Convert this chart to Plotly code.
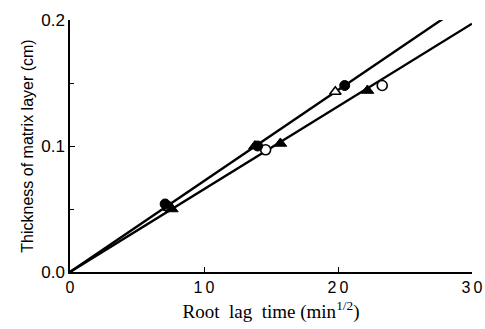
import plotly.graph_objects as go

# Data
line_x = [0, 30]
upper_line_y = [0, 0.2166]
lower_line_y = [0, 0.1971]

filled_circle_x = [7.1, 14.0, 20.5]
filled_circle_y = [0.054, 0.100, 0.148]
open_circle_x = [7.3, 14.6, 23.3]
open_circle_y = [0.052, 0.097, 0.148]
filled_tri_x = [7.6, 13.8, 15.7, 22.2]
filled_tri_y = [0.050, 0.100, 0.102, 0.144]
open_tri_x = [7.4, 19.8]
open_tri_y = [0.051, 0.143]

x_ticks = [0, 10, 20, 30]
x_tick_labels = ["0", "1\u20090", "2\u20090", "3\u20090"]
y_ticks = [0.0, 0.1, 0.2]
y_tick_labels = ["0.0", "0.1", "0.2"]

fig = go.Figure()
fig.add_trace(go.Scatter(x=line_x, y=upper_line_y, mode="lines",
                         line=dict(color="black", width=2.4), cliponaxis=True))
fig.add_trace(go.Scatter(x=line_x, y=lower_line_y, mode="lines",
                         line=dict(color="black", width=2.4), cliponaxis=True))
fig.add_trace(go.Scatter(x=open_circle_x, y=open_circle_y, mode="markers",
                         marker=dict(symbol="circle", size=10, color="white",
                                     line=dict(color="black", width=1.6))))
fig.add_trace(go.Scatter(x=open_tri_x, y=open_tri_y, mode="markers",
                         marker=dict(symbol="triangle-up", size=10, color="white",
                                     line=dict(color="black", width=1.6))))
fig.add_trace(go.Scatter(x=filled_tri_x, y=filled_tri_y, mode="markers",
                         marker=dict(symbol="triangle-up", size=11, color="black",
                                     line=dict(color="black", width=1))))
fig.add_trace(go.Scatter(x=filled_circle_x, y=filled_circle_y, mode="markers",
                         marker=dict(symbol="circle", size=10, color="black",
                                     line=dict(color="black", width=1))))

fig.update_layout(
    width=485, height=329,
    margin=dict(l=70, r=13, t=20, b=57),
    paper_bgcolor="white", plot_bgcolor="white",
    showlegend=False,
    xaxis=dict(
        range=[0, 30], tickvals=x_ticks, ticktext=x_tick_labels,
        automargin=False,
        ticks="inside", ticklen=5, tickwidth=1, tickcolor="black",
        showline=True, linecolor="black", linewidth=1.5,
        showgrid=False, zeroline=False,
        tickfont=dict(family="Liberation Sans, Arial", size=16, color="black"),
        title=dict(text="Root  lag  time (min<sup>1/2</sup>)",
                   font=dict(family="Liberation Serif, Times New Roman", size=19, color="black"),
                   standoff=10),
    ),
    yaxis=dict(
        range=[0, 0.2], tickvals=y_ticks, ticktext=y_tick_labels,
        automargin=False,
        ticks="inside", ticklen=5, tickwidth=1, tickcolor="black",
        minor=dict(tickvals=[0.05, 0.15], ticks="inside", ticklen=4, tickcolor="black"),
        showline=True, linecolor="black", linewidth=1.5,
        showgrid=False, zeroline=False,
        tickfont=dict(family="Liberation Sans, Arial", size=17, color="black"),
        title=dict(text="Thickness of matrix layer (cm)",
                   font=dict(family="Liberation Sans, Arial", size=16, color="black"),
                   standoff=4),
    ),
)

fig.write_html("out.html")
